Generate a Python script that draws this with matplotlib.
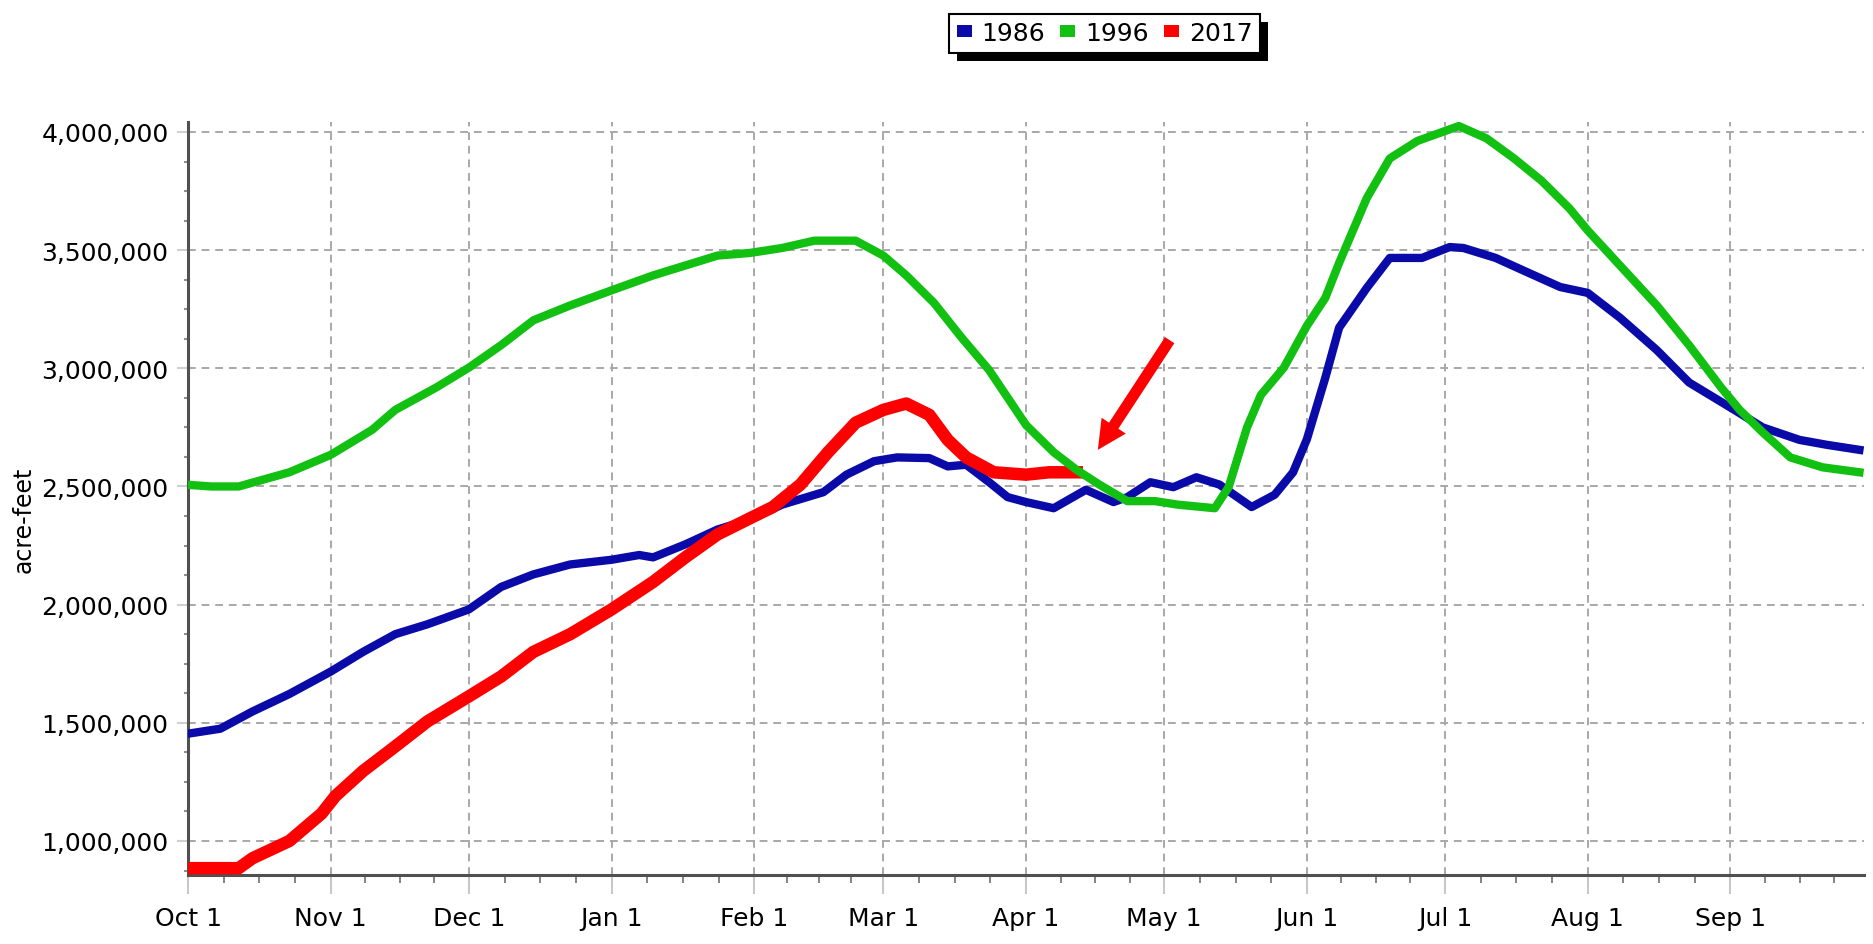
import matplotlib
matplotlib.use('Agg')
import matplotlib.pyplot as plt
from matplotlib import font_manager
from matplotlib.patches import Patch, Rectangle
from matplotlib.ticker import FixedLocator, FuncFormatter
from matplotlib.transforms import IdentityTransform

# x axis is day of water year, day 0 = Oct 1
month_labels = ['Oct 1', 'Nov 1', 'Dec 1', 'Jan 1', 'Feb 1', 'Mar 1',
                'Apr 1', 'May 1', 'Jun 1', 'Jul 1', 'Aug 1', 'Sep 1']
month_days = [0, 31, 61, 92, 123, 151, 182, 212, 243, 273, 304, 335]
year_end = 365

# storage in acre-feet
days_1986 = [0, 7, 14, 22, 31, 38, 45, 52, 61, 68, 75, 83, 92, 98, 101, 108,
             115, 122, 129, 138, 143, 149, 154, 161, 165, 169, 174, 178, 182,
             188, 195, 201, 204, 209, 214, 219, 224, 231, 236, 240, 243, 247,
             250, 256, 261, 268, 274, 277, 284, 290, 298, 304, 311, 319, 326,
             335, 342, 350, 356, 363]
acft_1986 = [1454000, 1475000, 1548000, 1622000, 1717000, 1800000, 1875000,
             1917000, 1980000, 2075000, 2128000, 2170000, 2190000, 2210000,
             2200000, 2255000, 2318000, 2360000, 2423000, 2476000, 2550000,
             2607000, 2623000, 2620000, 2585000, 2592000, 2518000, 2455000,
             2434000, 2408000, 2486000, 2434000, 2455000, 2518000, 2497000,
             2539000, 2508000, 2413000, 2465000, 2560000, 2700000, 2960000,
             3172000, 3340000, 3467000, 3467000, 3513000, 3509000, 3467000,
             3414000, 3344000, 3319000, 3214000, 3077000, 2940000, 2834000,
             2750000, 2697000, 2676000, 2655000]

days_1996 = [0, 5, 11, 22, 31, 40, 45, 54, 61, 68, 75, 83, 92, 101, 108, 115,
             122, 129, 136, 145, 151, 156, 162, 168, 174, 178, 182, 188, 193,
             198, 204, 210, 215, 223, 226, 230, 233, 238, 243, 247, 250, 256,
             261, 267, 273, 276, 282, 288, 294, 300, 304, 311, 319, 326, 333,
             337, 342, 348, 355, 363]
acft_1996 = [2507000, 2500000, 2500000, 2560000, 2634000, 2740000, 2824000,
             2920000, 3003000, 3098000, 3203000, 3266000, 3330000, 3393000,
             3435000, 3477000, 3488000, 3509000, 3540000, 3540000, 3477000,
             3393000, 3277000, 3130000, 2992000, 2876000, 2760000, 2645000,
             2570000, 2507000, 2438000, 2438000, 2423000, 2408000, 2497000,
             2750000, 2887000, 3003000, 3180000, 3298000, 3446000, 3720000,
             3888000, 3962000, 4004000, 4025000, 3973000, 3888000, 3793000,
             3677000, 3583000, 3435000, 3266000, 3098000, 2918000, 2824000,
             2729000, 2623000, 2581000, 2560000]

days_2017 = [0, 11, 14, 22, 29, 32, 38, 45, 52, 61, 68, 75, 83, 92, 101, 108,
             115, 122, 127, 133, 139, 145, 151, 156, 161, 165, 169, 175, 182,
             187, 193]
acft_2017 = [885000, 885000, 927000, 1000000, 1116000, 1190000, 1296000,
             1400000, 1506000, 1612000, 1696000, 1800000, 1875000, 1980000,
             2096000, 2200000, 2297000, 2365000, 2413000, 2508000, 2645000,
             2770000, 2824000, 2851000, 2803000, 2697000, 2623000, 2560000,
             2550000, 2560000, 2560000]

# narrow Tahoma-like font if we have it
names = {f.name for f in font_manager.fontManager.ttflist}
if 'Liberation Sans Narrow' in names:
    tick_family, tick_size = 'Liberation Sans Narrow', 23
else:
    tick_family, tick_size = 'DejaVu Sans', 18

fig = plt.figure(figsize=(18.73, 9.45), dpi=100)
ax = fig.add_axes([0.1004, 0.0730, 0.8948, 0.7968])

ax.plot(days_1986, acft_1986, color='#0A0AA8', lw=6, zorder=3,
        solid_joinstyle='round')
ax.plot(days_2017, acft_2017, color='#FF0000', lw=9, zorder=4,
        solid_joinstyle='round')
ax.plot(days_1996, acft_1996, color='#12C012', lw=6, zorder=5,
        solid_joinstyle='round')

ax.set_xlim(0, 364)
ax.set_ylim(856000, 4042000)

minor_days = []
bounds = month_days + [year_end]
for a, b in zip(bounds[:-1], bounds[1:]):
    minor_days += [a + (b - a) * k / 4 for k in (1, 2, 3)]
ax.xaxis.set_major_locator(FixedLocator(month_days))
ax.xaxis.set_minor_locator(FixedLocator(minor_days))
ax.set_xticklabels(month_labels, family=tick_family, fontsize=tick_size)

ax.yaxis.set_major_locator(FixedLocator([1000000, 1500000, 2000000, 2500000,
                                         3000000, 3500000, 4000000]))
ax.yaxis.set_minor_locator(FixedLocator([1000000 + 125000 * k for k in range(-1, 25)
                                         if k % 4]))
ax.yaxis.set_major_formatter(FuncFormatter(lambda v, p: f'{v:,.0f}'))
for lab in ax.get_yticklabels():
    lab.set_family(tick_family)
    lab.set_fontsize(tick_size)

ax.grid(True, which='major', color='#A8A8A8', linestyle=(0, (4, 3)), linewidth=1.4)
ax.tick_params(axis='x', which='major', length=14, color='#C8C8C8', width=1.5, pad=8)
ax.tick_params(axis='x', which='minor', length=6, color='#707070', width=1.2)
ax.tick_params(axis='y', which='major', length=8, color='#D0D0D0', width=1.5, pad=6)
ax.tick_params(axis='y', which='minor', length=3, color='#909090', width=1.5)
for s in ('top', 'right'):
    ax.spines[s].set_visible(False)
for s in ('left', 'bottom'):
    ax.spines[s].set_color('#505050')
    ax.spines[s].set_linewidth(2.2)

fig.text(24 / 1873, 1 - 520 / 945, 'acre-feet', rotation=90, ha='center',
         va='center', fontsize=17, family='DejaVu Sans')

# red arrow pointing at the end of the 2017 line
ax.annotate('', xy=(197.6, 2655000), xytext=(213.2, 3119000),
            arrowprops=dict(arrowstyle='simple,head_length=1.3,head_width=1.3,tail_width=0.5',
                            facecolor='red', edgecolor='none', mutation_scale=16,
                            shrinkA=0, shrinkB=0), zorder=6)

handles = [Patch(facecolor='#0A0AA8'), Patch(facecolor='#12C012'),
           Patch(facecolor='#FF0000')]
leg = fig.legend(handles, ['1986', '1996', '2017'], loc='center',
                 bbox_to_anchor=(1104.5 / 1873, 1 - 34 / 945), ncol=3,
                 handlelength=0.6, handleheight=0.4, handletextpad=0.4,
                 columnspacing=0.6, borderpad=0.3, fancybox=False,
                 edgecolor='black', framealpha=1,
                 prop={'family': tick_family, 'size': tick_size})
leg.get_frame().set_linewidth(1.5)

fig.canvas.draw()
bb = leg.get_window_extent()
fig.add_artist(Rectangle((bb.x0 + 8, bb.y0 - 8), bb.width, bb.height,
                         transform=IdentityTransform(), facecolor='black',
                         edgecolor='none', zorder=leg.get_zorder() - 0.5))

fig.savefig('out.png', dpi=100)
